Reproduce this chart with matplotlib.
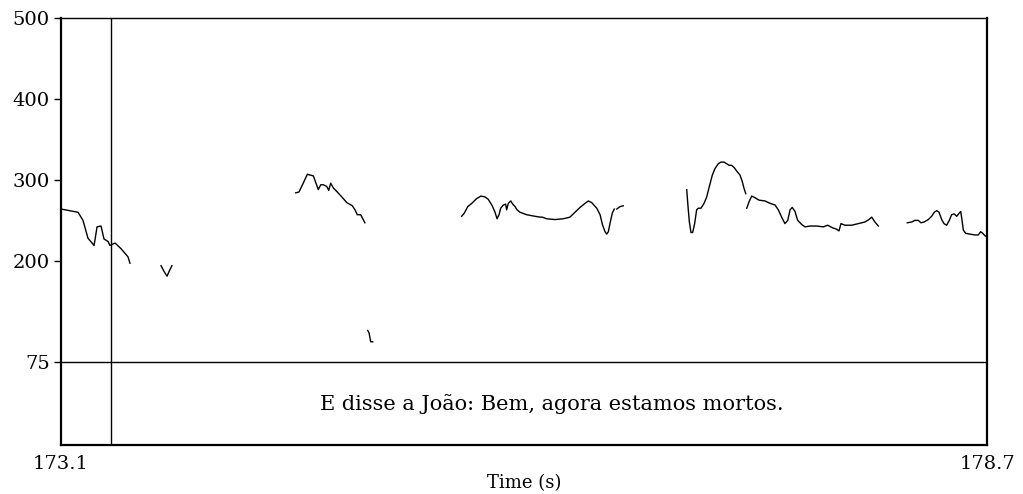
import matplotlib
matplotlib.use("Agg")
import matplotlib.pyplot as plt

# pitch track pieces (time in s, F0 in Hz), one list per voiced stretch
seg1_t = [173.100, 173.203, 173.233, 173.263, 173.300, 173.318, 173.342, 173.360,
          173.384, 173.396, 173.427, 173.463, 173.505, 173.517]
seg1_f = [264, 260, 250, 228, 219, 242, 243, 227, 224, 219, 222, 215, 205, 197]

seg2_t = [173.705, 173.723, 173.741, 173.756, 173.771]
seg2_f = [194, 187, 181, 188, 194]

seg3_t = [174.519, 174.539, 174.565, 174.590, 174.606, 174.626, 174.642, 174.656,
          174.671, 174.686, 174.707, 174.719, 174.731, 174.747, 174.771, 174.798,
          174.828, 174.862, 174.878, 174.892, 174.912, 174.925, 174.938]
seg3_f = [284, 285, 296, 307, 306, 305, 296, 288, 294, 294, 292, 287, 296, 290,
          285, 279, 272, 268, 263, 257, 257, 252, 247]

seg4_t = [174.955, 174.963, 174.973, 174.985]
seg4_f = [114, 111, 100, 100]

seg5_t = [175.523, 175.539, 175.560, 175.584, 175.614, 175.640, 175.664, 175.684,
          175.708, 175.725, 175.737, 175.749, 175.759, 175.775, 175.789, 175.795,
          175.805, 175.820, 175.832, 175.846, 175.858, 175.876, 175.916, 175.967,
          175.997, 176.011, 176.037, 176.087, 176.138, 176.178, 176.208, 176.239,
          176.269, 176.289, 176.309, 176.340, 176.360, 176.374, 176.390, 176.400,
          176.410, 176.422, 176.434, 176.446]
seg5_f = [255, 259, 267, 271, 277, 280, 279, 276, 268, 260, 252, 257, 265, 269,
          270, 263, 271, 274, 270, 267, 263, 260, 257, 255, 254, 254, 252, 251,
          252, 254, 260, 266, 271, 274, 272, 265, 257, 245, 236, 233, 236, 248,
          259, 264]

seg6_t = [176.461, 176.481, 176.500]
seg6_f = [264, 267, 268]

seg7_t = [176.884, 176.892, 176.900, 176.910, 176.920, 176.932, 176.944, 176.954,
          176.970, 176.989, 177.005, 177.021, 177.039, 177.055, 177.075, 177.091,
          177.109, 177.126, 177.140, 177.156, 177.172, 177.186, 177.206, 177.220,
          177.230, 177.241]
seg7_f = [288, 267, 248, 235, 235, 246, 263, 265, 265, 271, 279, 292, 306, 314,
          320, 322, 322, 320, 318, 318, 315, 311, 306, 298, 290, 283]

seg8_t = [177.247, 177.261, 177.277, 177.297, 177.321, 177.357, 177.388, 177.418,
          177.438, 177.458, 177.478, 177.495, 177.509, 177.522, 177.539, 177.555,
          177.579, 177.599, 177.630, 177.670, 177.710, 177.737, 177.764, 177.791,
          177.805, 177.817, 177.841, 177.882, 177.922, 177.962, 177.986, 178.003,
          178.022, 178.043]
seg8_f = [265, 273, 280, 278, 275, 274, 271, 269, 263, 254, 246, 250, 263, 266,
          261, 250, 245, 242, 243, 243, 242, 244, 241, 239, 237, 246, 244, 244,
          246, 248, 251, 254, 248, 243]

seg9_t = [178.218, 178.245, 178.264, 178.284, 178.301, 178.319, 178.345, 178.365,
          178.381, 178.396, 178.410, 178.426, 178.440, 178.456, 178.472, 178.486,
          178.502, 178.517, 178.532, 178.541, 178.547, 178.557, 178.571, 178.597,
          178.627, 178.647, 178.662, 178.674, 178.688, 178.698]
seg9_f = [247, 248, 250, 250, 247, 248, 251, 255, 260, 262, 260, 251, 246, 244,
          250, 257, 258, 255, 259, 261, 253, 238, 234, 233, 232, 232, 236, 234,
          231, 230]

segments = [(seg1_t, seg1_f), (seg2_t, seg2_f), (seg3_t, seg3_f), (seg4_t, seg4_f),
            (seg5_t, seg5_f), (seg6_t, seg6_f), (seg7_t, seg7_f), (seg8_t, seg8_f),
            (seg9_t, seg9_f)]

# text tier
t_start, t_end = 173.1, 178.7
boundary = 173.402
sentence = "E disse a João: Bem, agora estamos mortos."
y_ticks = [75, 200, 300, 400, 500]
f_min, f_max = 75, 500
tier_bottom = -27.5

fnt = "DejaVu Serif"
fs = 14

fig = plt.figure(figsize=(10.23, 4.94), dpi=100)
ax = fig.add_axes([61 / 1023, 49 / 494, 926 / 1023, 427 / 494])

for t, f in segments:
    ax.plot(t, f, color="black", lw=1.0)

# tier separator and interval boundary
ax.axhline(f_min, color="black", lw=1.0)
ax.axvline(boundary, color="black", lw=1.0)
ax.text((boundary + t_end) / 2 + 0.02, (f_min + tier_bottom) / 2, sentence,
        ha="center", va="center", fontsize=15, family=fnt)

ax.set_xlim(t_start, t_end)
ax.set_ylim(tier_bottom, f_max)

ax.set_yticks(y_ticks)
ax.set_yticklabels([str(v) for v in y_ticks], family=fnt, fontsize=fs)
ax.tick_params(axis="y", direction="out", length=5, width=1.0, pad=3)

ax.set_xticks([t_start, t_end])
ax.set_xticklabels(["173.1", "178.7"], family=fnt, fontsize=fs)
ax.tick_params(axis="x", length=0, pad=7)
ax.set_xlabel("Time (s)", family=fnt, fontsize=fs - 1, labelpad=1)

for side in ["left", "right", "bottom"]:
    ax.spines[side].set_linewidth(1.6)
ax.spines["top"].set_linewidth(1.0)

fig.savefig("out.png", dpi=100)
